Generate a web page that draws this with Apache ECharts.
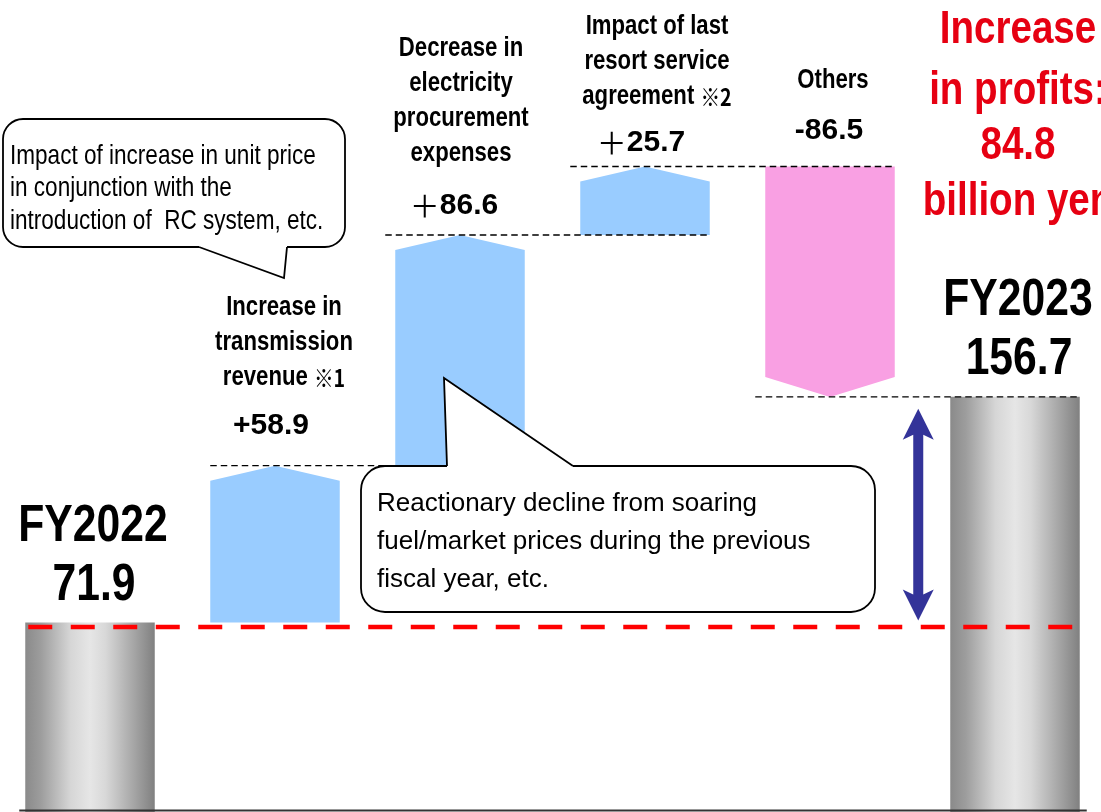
<!DOCTYPE html>
<html>
<head>
<meta charset="utf-8">
<title>Ordinary profit: FY2022 to FY2023</title>
<script src="https://cdn.jsdelivr.net/npm/echarts@6/dist/echarts.min.js"></script>
<style>
  html, body { margin: 0; padding: 0; background: #ffffff; }
  #chart { width: 1101px; height: 812px; }
</style>
</head>
<body>
<div id="chart"></div>
<script>
// ---- data (billion yen) ----
const categories = [
  'FY2022',
  'Increase in transmission revenue',
  'Decrease in electricity procurement expenses',
  'Impact of last resort service agreement',
  'Others',
  'FY2023'
];
const startValue = 71.9;
const endValue = 156.7;
const changes = [58.9, 86.6, 25.7, -86.5];
const changeNames = [
  ['Increase in', 'transmission', 'revenue ※1'],
  ['Decrease in', 'electricity', 'procurement', 'expenses'],
  ['Impact of last', 'resort service', 'agreement ※2'],
  ['Others']
];
const plusGlyph = ['+', '＋', '＋'];
const headlineWords = ['Increase', 'in profits:', 'billion yen'];
const noteRevenue = ['Impact of increase in unit price', 'in conjunction with the', 'introduction of  RC system, etc.'];
const noteProcurement = ['Reactionary decline from soaring', 'fuel/market prices during the previous', 'fiscal year, etc.'];

// ---- waterfall rows: [index, from, to, kind] kind 0 = total, 1 = up, 2 = down ----
const rows = [[0, 0, startValue, 0]];
let level = startValue;
changes.forEach((d, k) => {
  const from = level;
  level = Math.round((level + d) * 10) / 10;
  rows.push([k + 1, from, level, d >= 0 ? 1 : 2]);
});
rows.push([categories.length - 1, 0, endValue, 0]);

// ---- styling ----
const SANS = '"Liberation Sans", Arial, sans-serif';
const CJK = '"Noto Sans CJK JP", sans-serif';
const NARROW = 0.82;            // condensed lettering
const BAR_FRAC = 0.70;
const TIP_UP = 15, TIP_DOWN = 20;
const valueLift = [40, 29, 24, 36];
const nameGap = [48, 52, 45.5, 49.5];
const valueDx = [-4, -6, -4, -1];
const nameDx = [9, 1, 12, 3];
const BLUE = '#99CCFF';
const PINK = '#F9A0E3';
const RED = '#E60012';
const NAVY = '#333399';
const grayFill = {
  type: 'linear', x: 0, y: 0, x2: 1, y2: 0,
  colorStops: [
    { offset: 0, color: '#8a8a8a' },
    { offset: 0.12, color: '#9d9d9d' },
    { offset: 0.35, color: '#d6d6d6' },
    { offset: 0.5, color: '#e6e6e6' },
    { offset: 0.62, color: '#d8d8d8' },
    { offset: 0.85, color: '#a3a3a3' },
    { offset: 1, color: '#808080' }
  ]
};

function textEl(x, y, text, size, opt) {
  opt = opt || {};
  const el = {
    type: 'text', x: x, y: y, scaleX: opt.narrow ? NARROW : 1, z2: 20,
    style: {
      text: text, fontSize: size, fontWeight: opt.weight || 'bold', fontFamily: SANS,
      fill: opt.color || '#000000', align: opt.align || 'center', verticalAlign: 'middle'
    }
  };
  if (opt.rich) el.style.rich = opt.rich;
  return el;
}

function noteRich(size) {
  return { m: { fontSize: size, fontWeight: 'bold', fontFamily: CJK, fill: '#000000' } };
}

function renderBar(params, api) {
  const i = api.value(0), a = api.value(1), b = api.value(2), kind = api.value(3);
  const cx = api.coord([i, 0])[0];
  const w = api.size([1, 0])[0] * BAR_FRAC;
  const x0 = cx - w / 2, x1 = cx + w / 2;
  const ya = api.coord([i, a])[1], yb = api.coord([i, b])[1];
  const children = [];
  if (kind === 0) {
    children.push({ type: 'rect', shape: { x: x0, y: yb, width: w, height: ya - yb }, style: { fill: grayFill } });
    const vy = yb - 37;
    children.push(textEl(cx + 3, vy - 59, categories[i], 52, { narrow: true }));
    children.push(textEl(cx + 4, vy, b.toFixed(1), 52, { narrow: true }));
    return { type: 'group', children: children };
  }
  const k = i - 1;
  let top;
  if (kind === 1) {
    top = yb;
    children.push({ type: 'polygon', shape: { points: [[x0, ya], [x0, yb + TIP_UP], [cx, yb], [x1, yb + TIP_UP], [x1, ya]] }, style: { fill: BLUE } });
  } else {
    top = ya;
    children.push({ type: 'polygon', shape: { points: [[x0, ya], [x1, ya], [x1, yb - TIP_DOWN], [cx, yb], [x0, yb - TIP_DOWN]] }, style: { fill: PINK } });
  }
  const d = changes[k];
  const sign = d < 0 ? '-' : plusGlyph[k];
  const num = Math.abs(d).toFixed(1);
  const vy = top - valueLift[k];
  const rich = {
    p: { fontSize: 30, fontWeight: sign === '＋' ? 'normal' : 'bold', fontFamily: sign === '＋' ? CJK : SANS, fill: '#000000' },
    n: { fontSize: 30, fontWeight: 'bold', fontFamily: SANS, fill: '#000000' }
  };
  children.push(textEl(cx + valueDx[k], vy, '{p|' + sign + '}{n|' + num + '}', 30, { rich: rich }));
  const lines = changeNames[k];
  lines.forEach((line, j) => {
    const y = vy - nameGap[k] - 35 * (lines.length - 1 - j);
    const t = line.replace(/(※\d)/, '{m|$1}');
    children.push(textEl(cx + nameDx[k], y, t, 27, { narrow: true, rich: noteRich(24) }));
  });
  return { type: 'group', children: children };
}

function renderDecor(params, api) {
  const size = api.size([1, 0])[0];
  const w = size * BAR_FRAC;
  const cxs = rows.map(r => api.coord([r[0], 0])[0]);
  const children = [];
  // step connectors
  for (let k = 1; k < rows.length - 1; k++) {
    const y = api.coord([k, rows[k][2]])[1];
    const xs = cxs[k] - w / 2 - (k === 1 ? 0 : 10);
    const xe = cxs[k + 1] + w / 2;
    children.push({ type: 'line', shape: { x1: xs, y1: y, x2: xe, y2: y }, style: { stroke: '#000000', lineWidth: 1.4, lineDash: [6.5, 4] } });
  }
  // FY2022 reference level
  const yStart = api.coord([0, startValue])[1];
  const yEnd = api.coord([rows.length - 1, endValue])[1];
  children.push({ type: 'line', shape: { x1: cxs[0] - w / 2 + 3, y1: yStart + 4.5, x2: cxs[cxs.length - 1] + w / 2 - 2, y2: yStart + 4.5 },
    style: { stroke: '#FF0000', lineWidth: 4.5, lineDash: [24, 18.5] } });
  // double-headed arrow spanning the profit increase
  const ax = cxs[cxs.length - 1] - w / 2 - 32;
  const t = yEnd + 12, btm = yStart - 2;
  const hw = 15.5, hl = 31, sw = 5;
  children.push({ type: 'polygon', shape: { points: [
    [ax, t], [ax + hw, t + hl], [ax + sw, t + hl - 5], [ax + sw, btm - hl + 5], [ax + hw, btm - hl],
    [ax, btm], [ax - hw, btm - hl], [ax - sw, btm - hl + 5], [ax - sw, t + hl - 5], [ax - hw, t + hl]
  ] }, style: { fill: NAVY } });
  // baseline
  const yb = Math.min(api.coord([0, 0])[1], api.getHeight() - 1.5);
  children.push({ type: 'line', shape: { x1: cxs[0] - w / 2 - 6, y1: yb, x2: cxs[cxs.length - 1] + w / 2 + 7, y2: yb },
    style: { stroke: '#333333', lineWidth: 2 } });
  return { type: 'group', children: children };
}

// ---- annotation callouts and headline ----
function callout(box, tail, tip, lines, textX, lineYs, size, narrow) {
  const els = [];
  els.push({ type: 'rect', z: 100, shape: box, style: { fill: '#ffffff', stroke: '#000000', lineWidth: 1.8 } });
  const edge = tail.edge, inward = tail.inward;
  els.push({ type: 'polygon', z: 101, shape: { points: [[tail.x1, edge], [tip[0], tip[1]], [tail.x2, edge], [tail.x2, edge + inward], [tail.x1, edge + inward]] },
    style: { fill: '#ffffff' } });
  els.push({ type: 'polyline', z: 102, shape: { points: [[tail.x1, edge], [tip[0], tip[1]], [tail.x2, edge]] },
    style: { stroke: '#000000', lineWidth: 1.8, fill: null } });
  lines.forEach((line, j) => {
    els.push({ type: 'text', z: 103, x: textX, y: lineYs[j], scaleX: narrow ? NARROW : 1,
      style: { text: line, fontSize: size, fontWeight: 'normal', fontFamily: SANS, fill: '#000000', align: 'left', verticalAlign: 'middle' } });
  });
  return els;
}

const increase = (endValue - startValue).toFixed(1);
const headline = [headlineWords[0], headlineWords[1], increase, headlineWords[2]];
const headlineYs = [30, 91, 146, 202];

const graphics = []
  .concat(callout({ x: 3, y: 119, width: 342, height: 128, r: 20 },
    { x1: 199, x2: 287, edge: 247, inward: -3 }, [284, 278],
    noteRevenue, 10, [156, 188.5, 221], 27.5, true))
  .concat(callout({ x: 361, y: 466, width: 514, height: 146, r: 24 },
    { x1: 447, x2: 573, edge: 466, inward: 3 }, [444, 378],
    noteProcurement, 377, [504, 542, 580], 26, false))
  .concat(headline.map((s, j) => ({
    type: 'text', z: 103, x: 1018, y: headlineYs[j], scaleX: NARROW,
    style: { text: s, fontSize: 47, fontWeight: 'bold', fontFamily: SANS, fill: RED, align: 'center', verticalAlign: 'middle' }
  })));

const chart = echarts.init(document.getElementById('chart'), null, { renderer: 'canvas' });
chart.setOption({
  animation: false,
  backgroundColor: '#ffffff',
  grid: { left: -2.5, right: -6.5, top: 15, bottom: -2, containLabel: false, outerBoundsMode: 'none' },
  xAxis: { type: 'category', data: categories, show: false },
  yAxis: { type: 'value', min: 0, max: 300, show: false },
  series: [
    { type: 'custom', name: 'bars', data: rows, renderItem: renderBar, z: 2, silent: true },
    { type: 'custom', name: 'guides', data: [[0, startValue, endValue]], renderItem: renderDecor, z: 3, silent: true }
  ],
  graphic: graphics
});
</script>
</body>
</html>
